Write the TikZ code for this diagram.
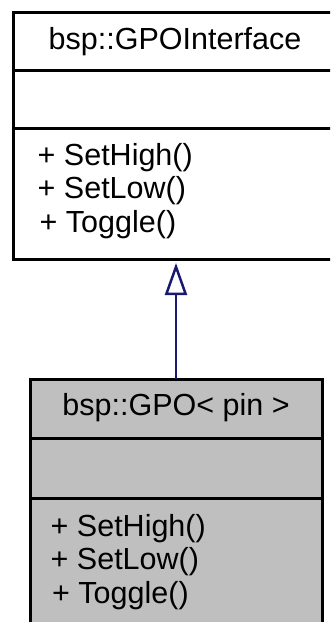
\documentclass[tikz,border=0pt]{standalone}
\usepackage{fontspec}
\setmainfont{Liberation Sans}
\usetikzlibrary{arrows.meta}
\definecolor{edgeblue}{HTML}{191970}
\definecolor{boxgray}{HTML}{BFBFBF}
\begin{document}
\begin{tikzpicture}[x=1pt,y=-1pt,
  classbox/.style={draw=black, line width=3pt, rectangle, inner sep=0pt,
    outer sep=0pt, anchor=north west},
  divider/.style={draw=black, line width=3pt},
  label/.style={inner sep=0pt, font=\fontsize{30.5}{36}\selectfont},
  member/.style={label, anchor=base west},
  title/.style={label, anchor=base},
  inherit/.style={draw=edgeblue, line width=2.5pt,
    -{Triangle[open, length=32pt, width=22pt, line width=2.5pt]}}]
\useasboundingbox (0,0) rectangle (330,622);
\clip (0,0) rectangle (330,622);

% base class
\node[classbox, fill=white, minimum width=326pt, minimum height=247pt]
  (iface) at (13,12) {};
\draw[divider] (iface.west |- 0,70) -- (iface.east |- 0,70);
\draw[divider] (iface.west |- 0,128) -- (iface.east |- 0,128);
\node[title] (ifacename) at (175,49) {bsp::GPOInterface};
\node[member] (ifaceA) at (37.5,165) {+ SetHigh()};
\node[member] (ifaceB) at (37.5,198.5) {+ SetLow()};
\node[member] (ifaceC) at (39.5,232) {+ Toggle()};

% derived template class
\node[classbox, fill=boxgray, minimum width=292pt, minimum height=250pt]
  (gpo) at (30,379) {};
\draw[divider] (gpo.west |- 0,438) -- (gpo.east |- 0,438);
\draw[divider] (gpo.west |- 0,498) -- (gpo.east |- 0,498);
\node[title] (gponame) at (176,415) {bsp::GPO< pin >};
\node[member] (gpoA) at (50.5,536) {+ SetHigh()};
\node[member] (gpoB) at (50.5,569.5) {+ SetLow()};
\node[member] (gpoC) at (52,603) {+ Toggle()};

% inheritance
\draw[inherit] (gpo.north) -- ([yshift=-4pt]iface.south -| gpo.north);
\end{tikzpicture}
\end{document}
